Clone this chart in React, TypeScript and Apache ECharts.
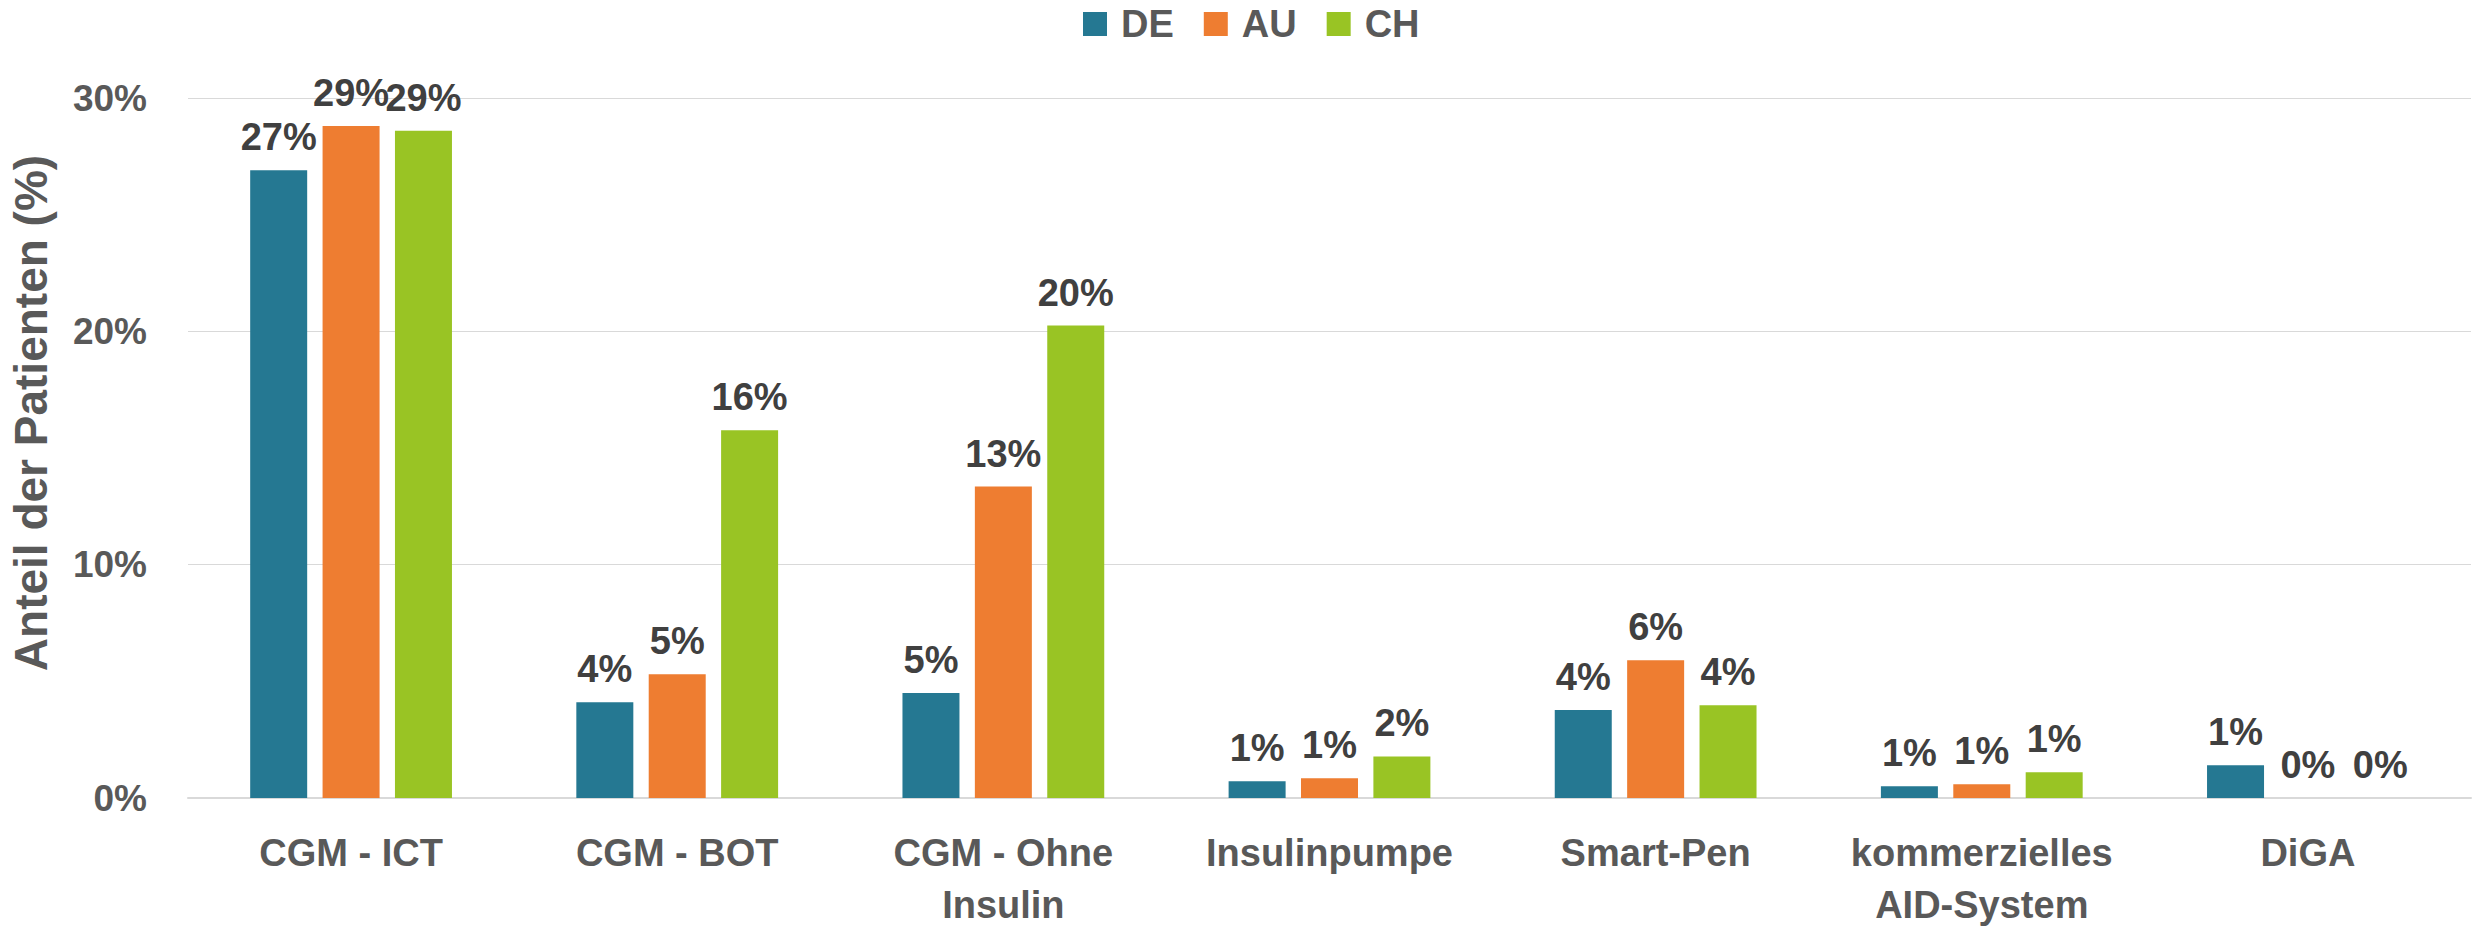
import React, { useEffect, useRef } from "react";
import * as echarts from "echarts";

const categories = [
  "CGM - ICT",
  "CGM - BOT",
  "CGM - Ohne\nInsulin",
  "Insulinpumpe",
  "Smart-Pen",
  "kommerzielles\nAID-System",
  "DiGA",
];
const seriesNames = ["DE", "AU", "CH"];
const deValues = [26.9, 4.1, 4.5, 0.72, 3.77, 0.5, 1.4];
const auValues = [28.8, 5.3, 13.35, 0.85, 5.9, 0.59, 0];
const chValues = [28.6, 15.76, 20.25, 1.78, 3.98, 1.1, 0];
const yTicks = { min: 0, max: 30, interval: 10 };

const colors = ["#257892", "#EE7D31", "#99C424"];
const FONT = "'Liberation Sans', Arial, sans-serif";

export default function App() {
  const ref = useRef<HTMLDivElement>(null);
  useEffect(() => {
    if (!ref.current) return;
    const chart = echarts.init(ref.current, undefined, { renderer: "svg" });
    const values = [deValues, auValues, chValues];
    chart.setOption({
      animation: false,
      backgroundColor: "#ffffff",
      color: colors,
      textStyle: { fontFamily: FONT },
      legend: {
        data: seriesNames,
        left: 1078,
        top: 0,
        itemWidth: 24,
        itemHeight: 24,
        itemGap: 30,
        icon: "rect",
        textStyle: {
          fontSize: 38,
          fontWeight: "bold",
          color: "#595959",
          fontFamily: FONT,
          padding: [0, 0, 0, 9],
        },
      },
      grid: { left: 185, right: 5, top: 98, bottom: 124, containLabel: false },
      xAxis: {
        type: "category",
        data: categories,
        axisTick: { show: false },
        axisLine: { show: true, lineStyle: { color: "#d9d9d9", width: 2 } },
        axisLabel: {
          interval: 0,
          fontSize: 38,
          fontWeight: "bold",
          color: "#595959",
          fontFamily: FONT,
          lineHeight: 52,
          margin: 29,
        },
      },
      yAxis: {
        type: "value",
        min: yTicks.min,
        max: yTicks.max,
        interval: yTicks.interval,
        name: "Anteil der Patienten (%)",
        nameLocation: "middle",
        nameGap: 134,
        nameTextStyle: {
          fontSize: 46,
          fontWeight: "bold",
          color: "#595959",
          fontFamily: FONT,
          padding: [0, 0, 0, 70],
        },
        axisLabel: {
          formatter: "{value}%",
          fontSize: 37,
          fontWeight: "bold",
          color: "#595959",
          fontFamily: FONT,
          margin: 41,
        },
        splitLine: { lineStyle: { color: "#d9d9d9", width: 1 } },
        axisLine: { show: false },
        axisTick: { show: false },
      },
      series: seriesNames.map((name, i) => ({
        name,
        type: "bar",
        data: values[i],
        barWidth: 57,
        barGap: "27%",
        itemStyle: { color: colors[i] },
        label: {
          show: true,
          position: "top",
          distance: 14,
          formatter: (p: any) => Math.round(p.value) + "%",
          fontSize: 38,
          fontWeight: "bold",
          color: "#404040",
          fontFamily: FONT,
        },
      })),
    });
    return () => chart.dispose();
  }, []);
  return (
    <div
      ref={ref}
      style={{ position: "absolute", left: 0, top: 0, width: 2476, height: 931 }}
    />
  );
}
